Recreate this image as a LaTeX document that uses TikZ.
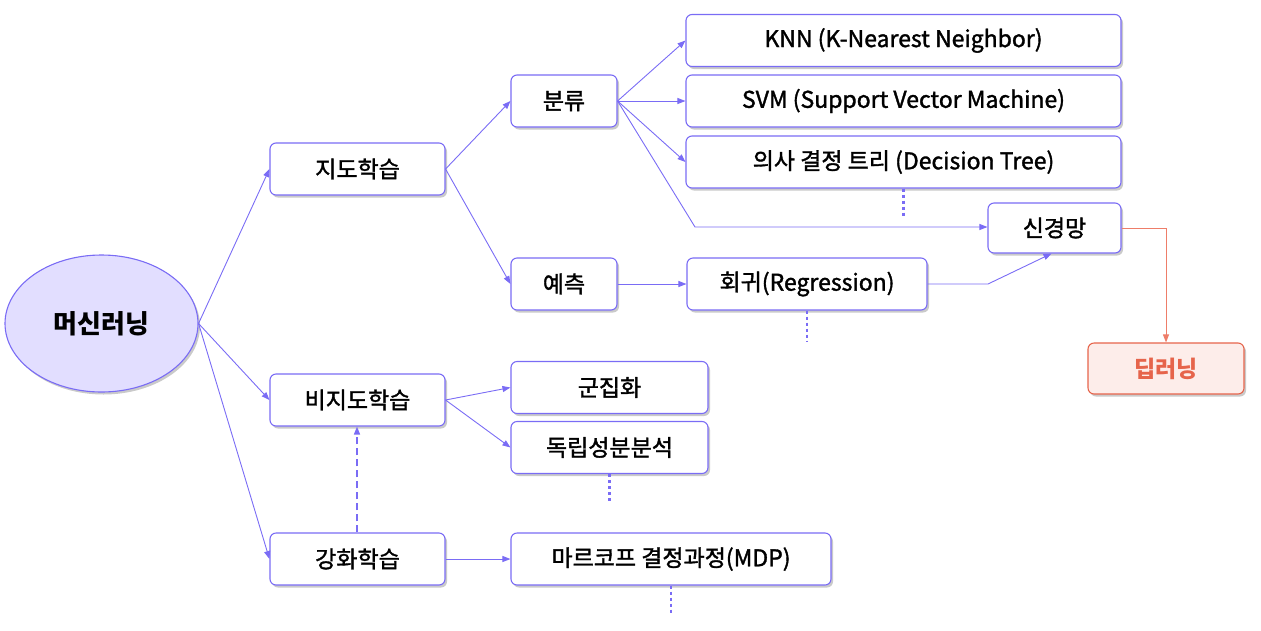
\documentclass[tikz,border=0pt]{standalone}
\usepackage{fontspec}
\setmainfont{Noto Sans CJK KR}[FakeBold=1.5]
\newfontfamily\boldkr{Noto Sans CJK KR}[FakeBold=0]
\usetikzlibrary{shapes.geometric,arrows.meta,shadows,calc}
\definecolor{pur}{RGB}{122,108,245}
\definecolor{purfill}{RGB}{226,222,255}
\definecolor{dred}{RGB}{230,100,75}
\definecolor{dredline}{RGB}{238,125,105}
\definecolor{dfill}{RGB}{253,237,234}
\tikzset{
  box/.style={draw=pur, line width=1.1pt, rounded corners=6pt, fill=white,
    minimum height=52pt, inner sep=0pt, font=\fontsize{23}{27}\selectfont\mdseries,
    drop shadow={shadow xshift=2pt, shadow yshift=-2.5pt, opacity=0.35, fill=black!60}},
  conn/.style={draw=pur, line width=0.9pt, -{Triangle[length=8pt,width=6pt]}},
  dotline/.style={draw=pur, line width=2.5pt, dash pattern=on 3pt off 3pt},
}
\begin{document}
\begin{tikzpicture}[x=1pt,y=-1pt]
\useasboundingbox (0,0) rectangle (1261,630);
% root
\node[ellipse, draw=pur, line width=1.1pt, fill=purfill, minimum width=193pt, minimum height=137pt,
  inner sep=0pt, font=\fontsize{26}{30}\selectfont\boldkr\bfseries,
  drop shadow={shadow xshift=2pt, shadow yshift=-2.5pt, opacity=0.35, fill=black!60}] (ml) at (101.5,323.5) {머신러닝};
% level 1
\node[box, minimum width=175pt] (jido) at (357.5,169) {지도학습};
\node[box, minimum width=175pt] (bijido) at (357.5,400) {비지도학습};
\node[box, minimum width=175pt] (ganghwa) at (357.5,559) {강화학습};
% level 2
\node[box, minimum width=106pt] (bunryu) at (564,101) {분류};
\node[box, minimum width=106pt] (yecheuk) at (564,284) {예측};
\node[box, minimum width=197pt] (gunjip) at (609.5,387.5) {군집화};
\node[box, minimum width=197pt] (dokrip) at (609.5,447.5) {독립성분분석};
\node[box, minimum width=320pt] (mdp) at (671,559) {마르코프 결정과정(MDP)};
% level 3
\node[box, minimum width=435pt] (knn) at (903.5,40.5) {KNN (K-Nearest Neighbor)};
\node[box, minimum width=435pt] (svm) at (903.5,101) {SVM (Support Vector Machine)};
\node[box, minimum width=435pt] (tree) at (903.5,162) {의사 결정 트리 (Decision Tree)};
\node[box, minimum width=240pt] (hoegwi) at (807,284) {회귀(Regression)};
\node[box, minimum width=133pt, minimum height=50pt] (sin) at (1054.5,228) {신경망};
\node[box, draw=dred, fill=dfill, text=dred, minimum width=156pt, minimum height=51pt,
  font=\fontsize{23}{27}\selectfont\boldkr\bfseries] (deep) at (1166,368.5) {딥러닝};
% helper coordinates
\coordinate (bend1) at (695,227);
\coordinate (bend2) at (988,284);
% connectors
\draw[conn] (ml.east) -- (jido.west);
\draw[conn] (ml.east) -- (bijido.west);
\draw[conn] (ml.east) -- (ganghwa.west);
\draw[conn] (jido.east) -- (bunryu.west);
\draw[conn] (jido.east) -- (yecheuk.west);
\draw[conn] (bunryu.east) -- (knn.west);
\draw[conn] (bunryu.east) -- (svm.west);
\draw[conn] (bunryu.east) -- (tree.west);
\draw[conn] (bunryu.east) -- (bend1) -- (sin.west |- bend1);
\draw[conn] (yecheuk.east) -- (hoegwi.west);
\draw[conn] (hoegwi.east) -- (bend2) -- ([xshift=-3pt]sin.south);
\draw[draw=dredline, line width=0.9pt, -{Triangle[length=8pt,width=6pt]}] (sin.east) -| (deep.north);
\draw[conn] (bijido.east) -- (gunjip.west);
\draw[conn] (bijido.east) -- (dokrip.west);
\draw[conn] (ganghwa.east) -- (mdp.west);
\draw[conn, line width=1.4pt, dash pattern=on 7pt off 4pt, -{Triangle[length=8pt,width=6pt]}] ([xshift=-0.5pt]ganghwa.north) -- ([xshift=-0.5pt]bijido.south);
% dotted continuations
\coordinate (d1) at (903.5,218);
\coordinate (d2) at (807,342);
\coordinate (d3) at (609.5,502);
\coordinate (d4) at (671,614);
\draw[dotline] (tree.south) -- (d1);
\draw[dotline] (hoegwi.south) -- (d2);
\draw[dotline] (dokrip.south) -- (d3);
\draw[dotline] (mdp.south) -- (d4);
\end{tikzpicture}
\end{document}
